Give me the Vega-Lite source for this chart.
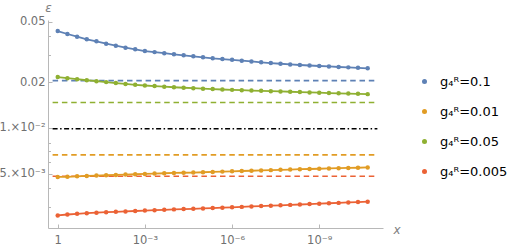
{
  "$schema": "https://vega.github.io/schema/vega-lite/v6.json",
  "width": 335,
  "height": 208,
  "autosize": {"type": "none"},
  "padding": {"left": 48, "top": 20, "right": 127, "bottom": 20},
  "background": "white",
  "config": {"view": {"stroke": null}, "font": "DejaVu Sans"},
  "datasets": {
    "pts": [
      {"x":1,"e":0.0434,"g":"0.1"},{"x":0.4642,"e":0.04148,"g":"0.1"},{"x":0.2154,"e":0.03981,"g":"0.1"},{"x":0.1,"e":0.03827,"g":"0.1"},{"x":0.04642,"e":0.03713,"g":"0.1"},{"x":0.02154,"e":0.0358,"g":"0.1"},{"x":0.01,"e":0.03473,"g":"0.1"},{"x":0.004642,"e":0.03369,"g":"0.1"},{"x":0.002154,"e":0.03288,"g":"0.1"},{"x":0.001,"e":0.03204,"g":"0.1"},{"x":0.0004642,"e":0.03152,"g":"0.1"},{"x":0.0002154,"e":0.031,"g":"0.1"},{"x":0.0001,"e":0.0305,"g":"0.1"},{"x":4.642e-5,"e":0.03002,"g":"0.1"},{"x":2.154e-5,"e":0.02956,"g":"0.1"},{"x":1e-5,"e":0.02912,"g":"0.1"},{"x":4.642e-6,"e":0.02868,"g":"0.1"},{"x":2.154e-6,"e":0.02837,"g":"0.1"},{"x":1e-6,"e":0.02805,"g":"0.1"},{"x":4.642e-7,"e":0.02767,"g":"0.1"},{"x":2.154e-7,"e":0.02735,"g":"0.1"},{"x":1e-7,"e":0.02702,"g":"0.1"},{"x":4.642e-8,"e":0.0267,"g":"0.1"},{"x":2.154e-8,"e":0.02642,"g":"0.1"},{"x":1e-8,"e":0.02616,"g":"0.1"},{"x":4.642e-9,"e":0.02592,"g":"0.1"},{"x":2.154e-9,"e":0.02574,"g":"0.1"},{"x":1e-9,"e":0.02553,"g":"0.1"},{"x":4.642e-10,"e":0.02536,"g":"0.1"},{"x":2.154e-10,"e":0.02515,"g":"0.1"},{"x":1e-10,"e":0.02501,"g":"0.1"},{"x":4.642e-11,"e":0.02484,"g":"0.1"},{"x":2.154e-11,"e":0.02464,"g":"0.1"},
      {"x":1,"e":0.02158,"g":"0.05"},{"x":0.4642,"e":0.02123,"g":"0.05"},{"x":0.2154,"e":0.0209,"g":"0.05"},{"x":0.1,"e":0.02058,"g":"0.05"},{"x":0.04642,"e":0.02028,"g":"0.05"},{"x":0.02154,"e":0.02,"g":"0.05"},{"x":0.01,"e":0.01972,"g":"0.05"},{"x":0.004642,"e":0.01945,"g":"0.05"},{"x":0.002154,"e":0.01921,"g":"0.05"},{"x":0.001,"e":0.019,"g":"0.05"},{"x":0.0004642,"e":0.01883,"g":"0.05"},{"x":0.0002154,"e":0.01866,"g":"0.05"},{"x":0.0001,"e":0.0185,"g":"0.05"},{"x":4.642e-5,"e":0.01836,"g":"0.05"},{"x":2.154e-5,"e":0.01823,"g":"0.05"},{"x":1e-5,"e":0.0181,"g":"0.05"},{"x":4.642e-6,"e":0.01799,"g":"0.05"},{"x":2.154e-6,"e":0.01788,"g":"0.05"},{"x":1e-6,"e":0.01778,"g":"0.05"},{"x":4.642e-7,"e":0.01769,"g":"0.05"},{"x":2.154e-7,"e":0.0176,"g":"0.05"},{"x":1e-7,"e":0.01752,"g":"0.05"},{"x":4.642e-8,"e":0.01744,"g":"0.05"},{"x":2.154e-8,"e":0.01736,"g":"0.05"},{"x":1e-8,"e":0.01728,"g":"0.05"},{"x":4.642e-9,"e":0.01719,"g":"0.05"},{"x":2.154e-9,"e":0.01711,"g":"0.05"},{"x":1e-9,"e":0.01703,"g":"0.05"},{"x":4.642e-10,"e":0.01695,"g":"0.05"},{"x":2.154e-10,"e":0.01688,"g":"0.05"},{"x":1e-10,"e":0.01681,"g":"0.05"},{"x":4.642e-11,"e":0.01674,"g":"0.05"},{"x":2.154e-11,"e":0.01667,"g":"0.05"},
      {"x":1,"e":0.004749,"g":"0.01"},{"x":0.4642,"e":0.004756,"g":"0.01"},{"x":0.2154,"e":0.004792,"g":"0.01"},{"x":0.1,"e":0.004821,"g":"0.01"},{"x":0.04642,"e":0.00485,"g":"0.01"},{"x":0.02154,"e":0.004873,"g":"0.01"},{"x":0.01,"e":0.004895,"g":"0.01"},{"x":0.004642,"e":0.004924,"g":"0.01"},{"x":0.002154,"e":0.004947,"g":"0.01"},{"x":0.001,"e":0.00497,"g":"0.01"},{"x":0.0004642,"e":0.005,"g":"0.01"},{"x":0.0002154,"e":0.005023,"g":"0.01"},{"x":0.0001,"e":0.005046,"g":"0.01"},{"x":4.642e-5,"e":0.005061,"g":"0.01"},{"x":2.154e-5,"e":0.005076,"g":"0.01"},{"x":1e-5,"e":0.0051,"g":"0.01"},{"x":4.642e-6,"e":0.005123,"g":"0.01"},{"x":2.154e-6,"e":0.005147,"g":"0.01"},{"x":1e-6,"e":0.00517,"g":"0.01"},{"x":4.642e-7,"e":0.005194,"g":"0.01"},{"x":2.154e-7,"e":0.005217,"g":"0.01"},{"x":1e-7,"e":0.005241,"g":"0.01"},{"x":4.642e-8,"e":0.005265,"g":"0.01"},{"x":2.154e-8,"e":0.005289,"g":"0.01"},{"x":1e-8,"e":0.005313,"g":"0.01"},{"x":4.642e-9,"e":0.005338,"g":"0.01"},{"x":2.154e-9,"e":0.005354,"g":"0.01"},{"x":1e-9,"e":0.005378,"g":"0.01"},{"x":4.642e-10,"e":0.005403,"g":"0.01"},{"x":2.154e-10,"e":0.005419,"g":"0.01"},{"x":1e-10,"e":0.005444,"g":"0.01"},{"x":4.642e-11,"e":0.00546,"g":"0.01"},{"x":2.154e-11,"e":0.005485,"g":"0.01"},
      {"x":1,"e":0.00265,"g":"0.005"},{"x":0.4642,"e":0.002686,"g":"0.005"},{"x":0.2154,"e":0.002715,"g":"0.005"},{"x":0.1,"e":0.00274,"g":"0.005"},{"x":0.04642,"e":0.002761,"g":"0.005"},{"x":0.02154,"e":0.002782,"g":"0.005"},{"x":0.01,"e":0.002799,"g":"0.005"},{"x":0.004642,"e":0.002816,"g":"0.005"},{"x":0.002154,"e":0.002833,"g":"0.005"},{"x":0.001,"e":0.00285,"g":"0.005"},{"x":0.0004642,"e":0.002868,"g":"0.005"},{"x":0.0002154,"e":0.002885,"g":"0.005"},{"x":0.0001,"e":0.002903,"g":"0.005"},{"x":4.642e-5,"e":0.002916,"g":"0.005"},{"x":2.154e-5,"e":0.002929,"g":"0.005"},{"x":1e-5,"e":0.002947,"g":"0.005"},{"x":4.642e-6,"e":0.00296,"g":"0.005"},{"x":2.154e-6,"e":0.002979,"g":"0.005"},{"x":1e-6,"e":0.002997,"g":"0.005"},{"x":4.642e-7,"e":0.003015,"g":"0.005"},{"x":2.154e-7,"e":0.003034,"g":"0.005"},{"x":1e-7,"e":0.003052,"g":"0.005"},{"x":4.642e-8,"e":0.003071,"g":"0.005"},{"x":2.154e-8,"e":0.003089,"g":"0.005"},{"x":1e-8,"e":0.003108,"g":"0.005"},{"x":4.642e-9,"e":0.003127,"g":"0.005"},{"x":2.154e-9,"e":0.003146,"g":"0.005"},{"x":1e-9,"e":0.003165,"g":"0.005"},{"x":4.642e-10,"e":0.003185,"g":"0.005"},{"x":2.154e-10,"e":0.003204,"g":"0.005"},{"x":1e-10,"e":0.003224,"g":"0.005"},{"x":4.642e-11,"e":0.003243,"g":"0.005"},{"x":2.154e-11,"e":0.003263,"g":"0.005"}
    ],
    "ref": [
      {"x":1.5,"e":0.02047,"g":"0.1"},{"x":1.1e-11,"e":0.02047,"g":"0.1"},
      {"x":1.5,"e":0.01467,"g":"0.05"},{"x":1.1e-11,"e":0.01467,"g":"0.05"},
      {"x":1.5,"e":0.006637,"g":"0.01"},{"x":1.1e-11,"e":0.006637,"g":"0.01"},
      {"x":1.5,"e":0.004799,"g":"0.005"},{"x":1.1e-11,"e":0.004799,"g":"0.005"}
    ],
    "blk": [
      {"x":1.5,"e":0.00985},{"x":1.0e-11,"e":0.00985}
    ]
  },
  "encoding": {
    "x": {
      "field": "x", "type": "quantitative",
      "scale": {"type": "log", "domain": [6.4e-12, 2.16], "reverse": true, "nice": false},
      "axis": {
        "values": [1, 0.001, 1e-6, 1e-9],
        "labelExpr": "datum.value > 0.5 ? '1' : datum.value > 1e-4 ? '10⁻³' : datum.value > 1e-7 ? '10⁻⁶' : '10⁻⁹'",
        "grid": false,
        "domainColor": "#b8b8b8", "tickColor": "#b8b8b8", "tickSize": -4, "labelPadding": 10,
        "labelColor": "#707070", "labelFontSize": 11.5, "labelOverlap": false, "labelFlush": false, "labelBound": false,
        "title": "x", "titleFontStyle": "italic", "titleFontWeight": "normal", "titleColor": "#808080", "titleFontSize": 12,
        "titleAngle": 0, "titleX": 345, "titleY": 1, "titleAlign": "left", "titleBaseline": "middle"
      }
    },
    "y": {
      "field": "e", "type": "quantitative",
      "scale": {"type": "log", "domain": [0.002189, 0.0513], "nice": false},
      "axis": {
        "values": [0.05, 0.04, 0.03, 0.02, 0.01, 0.008, 0.007, 0.006, 0.005, 0.004, 0.003],
        "labelExpr": "datum.value == 0.05 ? '0.05' : datum.value == 0.02 ? '0.02' : datum.value == 0.01 ? '1.×10⁻²' : datum.value == 0.005 ? '5.×10⁻³' : ''",
        "tickSize": {"condition": {"test": "datum.value == 0.05 || datum.value == 0.02 || datum.value == 0.01 || datum.value == 0.005", "value": -4}, "value": -2.5},
        "grid": false,
        "domainColor": "#b8b8b8", "tickColor": "#b8b8b8", "labelPadding": 7,
        "labelColor": "#707070", "labelFontSize": 11.5, "labelOverlap": false, "labelFlush": false, "labelBound": false,
        "title": "ε", "titleFontStyle": "italic", "titleFontWeight": "normal", "titleColor": "#808080", "titleFontSize": 12,
        "titleAngle": 0, "titleX": 0, "titleY": -12.5, "titleAlign": "center", "titleBaseline": "middle"
      }
    }
  },
  "layer": [
    {
      "data": {"name": "ref"},
      "mark": {"type": "line", "strokeWidth": 1.6, "strokeDash": [5.5, 3.8]},
      "encoding": {
        "color": {"field": "g", "type": "nominal",
          "scale": {"domain": ["0.1", "0.01", "0.05", "0.005"], "range": ["#5E81B5", "#E19C24", "#8FB032", "#EB6235"]}}
      }
    },
    {
      "data": {"name": "blk"},
      "mark": {"type": "line", "strokeWidth": 1.6, "color": "#000000", "strokeDash": [5, 2.5, 1.5, 2.5]},
      "encoding": {}
    },
    {
      "data": {"name": "pts"},
      "mark": {"type": "line", "strokeWidth": 1.8},
      "encoding": {
        "color": {"field": "g", "type": "nominal"}
      }
    },
    {
      "data": {"name": "pts"},
      "mark": {"type": "point", "filled": true, "size": 20, "opacity": 1},
      "encoding": {
        "color": {"field": "g", "type": "nominal",
          "legend": {
            "orient": "none", "legendX": 370, "legendY": 55, "title": null, "padding": 0,
            "symbolType": "circle", "symbolSize": 25, "symbolStrokeWidth": 0, "symbolOpacity": 1,
            "labelExpr": "'g₄ᴿ=' + datum.label", "labelFontSize": 13, "labelColor": "#000000",
            "labelOffset": 9, "rowPadding": 16, "labelFont": "DejaVu Sans"
          }
        }
      }
    }
  ]
}
